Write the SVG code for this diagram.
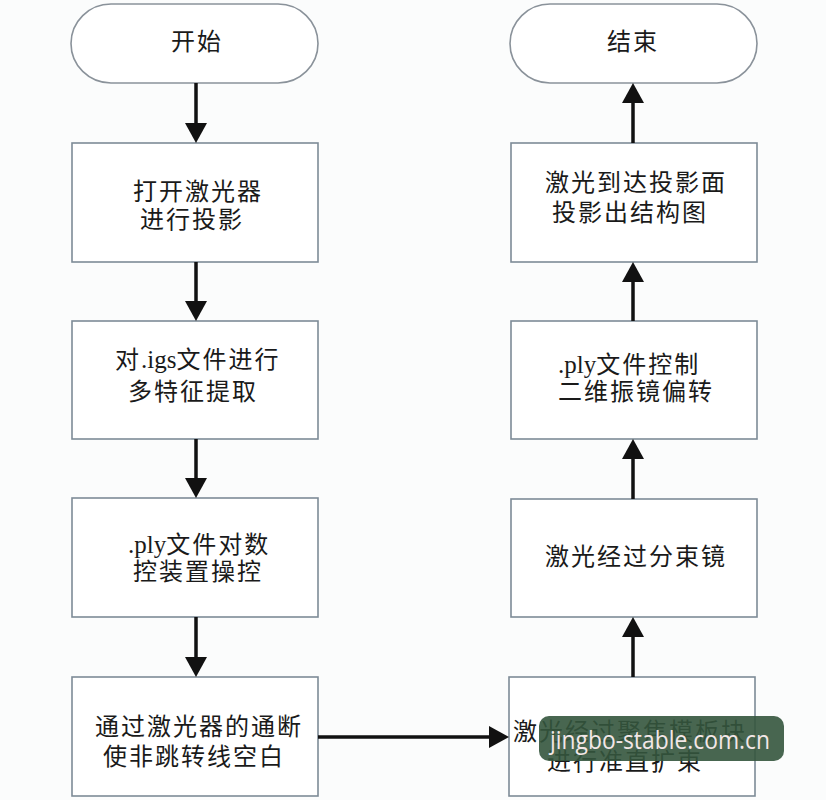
<svg xmlns="http://www.w3.org/2000/svg" width="826" height="800" viewBox="0 0 826 800">
<style>
.box{fill:#ffffff;stroke:#7d8b97;stroke-width:1.6}
.term{fill:#ffffff;stroke:#8a929a;stroke-width:1.6}
.t{font-family:"Liberation Serif","Noto Sans CJK SC",serif;font-size:24px;letter-spacing:2px;fill:#1a1a1a}
.l{letter-spacing:0px;font-size:25px}
.c{stroke:#111;stroke-width:3.5;fill:none}
.wm{font-family:"Open Sans","DejaVu Sans",sans-serif;font-size:25px;fill:#f3e7e7}
</style>
<defs>
<marker id="ah" viewBox="0 0 20 22" markerWidth="20" markerHeight="22" refX="0" refY="11" orient="auto" markerUnits="userSpaceOnUse">
<path d="M0,0 L20,11 L0,22 z" fill="#111"/>
</marker>
</defs>
<rect width="826" height="800" fill="#fbfcfc"/>
<g id="start"><rect class="term" x="71" y="4" width="247" height="79" rx="40"/><text class="t" x="197" y="50" text-anchor="middle">开始</text></g>
<g id="n1"><rect class="box" x="72" y="143" width="246" height="119"/><text class="t" x="133" y="200">打开激光器</text><text class="t" x="140" y="228">进行投影</text></g>
<g id="n2"><rect class="box" x="72" y="321" width="246" height="118"/><text class="t" x="115" y="368">对<tspan class="l">.igs</tspan>文件进行</text><text class="t" x="128" y="400">多特征提取</text></g>
<g id="n3"><rect class="box" x="72" y="498" width="246" height="119"/><text class="t" x="128" y="553"><tspan class="l">.ply</tspan>文件对数</text><text class="t" x="133" y="580">控装置操控</text></g>
<g id="n4"><rect class="box" x="72" y="677" width="246" height="119"/><text class="t" x="95" y="735">通过激光器的通断</text><text class="t" x="103" y="765">使非跳转线空白</text></g>
<g id="end"><rect class="term" x="510" y="4" width="247" height="79" rx="40"/><text class="t" x="633" y="50" text-anchor="middle">结束</text></g>
<g id="m1"><rect class="box" x="511" y="143" width="246" height="119"/><text class="t" x="545" y="191">激光到达投影面</text><text class="t" x="552" y="221">投影出结构图</text></g>
<g id="m2"><rect class="box" x="511" y="321" width="246" height="118"/><text class="t" x="558" y="373"><tspan class="l">.ply</tspan>文件控制</text><text class="t" x="558" y="400">二维振镜偏转</text></g>
<g id="m3"><rect class="box" x="511" y="499" width="246" height="118"/><text class="t" x="545" y="565">激光经过分束镜</text></g>
<g id="m4"><rect class="box" x="509" y="677" width="246" height="119"/><text class="t" x="513" y="740">激光经过聚焦模板块</text><text class="t" x="547" y="770">进行准直扩束</text></g>
<g id="connectors">
<line class="c" x1="196" y1="83" x2="196" y2="123" marker-end="url(#ah)"/>
<line class="c" x1="196" y1="262" x2="196" y2="301" marker-end="url(#ah)"/>
<line class="c" x1="196" y1="439" x2="196" y2="478" marker-end="url(#ah)"/>
<line class="c" x1="196" y1="617" x2="196" y2="657" marker-end="url(#ah)"/>
<line class="c" x1="318" y1="737" x2="489" y2="737" marker-end="url(#ah)"/>
<line class="c" x1="633" y1="677" x2="633" y2="637" marker-end="url(#ah)"/>
<line class="c" x1="633" y1="499" x2="633" y2="459" marker-end="url(#ah)"/>
<line class="c" x1="633" y1="321" x2="633" y2="282" marker-end="url(#ah)"/>
<line class="c" x1="633" y1="143" x2="633" y2="103" marker-end="url(#ah)"/>
</g>
<g id="watermark"><rect x="539" y="716" width="245" height="45" rx="10" fill="#34553d" opacity="0.9"/><text class="wm" x="550" y="749" textLength="220" lengthAdjust="spacingAndGlyphs">jingbo-stable.com.cn</text></g>
</svg>
